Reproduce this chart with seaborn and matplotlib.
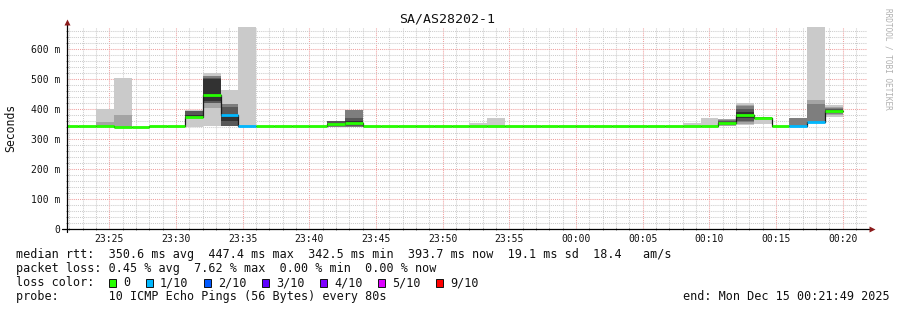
import numpy as np
import pandas as pd
import matplotlib
matplotlib.use("Agg")
import matplotlib.pyplot as plt
import seaborn as sns
from matplotlib.patches import Rectangle

# ---------------- data ----------------
title = "SA/AS28202-1"
first_step = "2025-12-14 23:21:20"   # start of first 80 s step
n_steps = 44
step_seconds = 80
end_time = "2025-12-15 00:21:49"

median_ms = [344, 344, 344, 341, 341, 344, 344, 374, 447, 379, 343,
             344, 344, 344, 344, 349, 355,
             344, 344, 344, 344, 344, 344, 344, 344, 344, 344,
             344, 344, 344, 344, 344, 344, 344, 344, 344, 344,
             354, 381, 372, 344, 343, 356, 394]
loss_tenths = [0] * 9 + [1, 1] + [0] * 30 + [1, 1, 0]

smoke_steps = [2, 3, 7, 8, 9, 10, 15, 16, 23, 24, 35, 36, 37, 38, 39, 41, 42, 43]
smoke_pings = [
    [344, 344, 344, 344, 344, 344, 344, 344, 358, 399],
    [341, 341, 341, 341, 341, 341, 341, 341, 380, 503],
    [340, 369, 370, 371, 372, 380, 393, 394, 395, 397],
    [343, 405, 420, 422, 427, 500, 505, 510, 512, 520],
    [343, 343, 344, 345, 362, 376, 406, 417, 418, 464],
    [343, 343, 343, 343, 343, 343, 343, 343, 343, 675],
    [341, 341, 342, 343, 345, 352, 360, 360, 360, 361],
    [340, 341, 342, 345, 350, 360, 370, 397, 397, 398],
    [344, 344, 344, 344, 344, 344, 344, 344, 344, 355],
    [344, 344, 344, 344, 344, 344, 344, 344, 344, 370],
    [344, 344, 344, 344, 344, 344, 344, 344, 344, 353],
    [344, 344, 344, 344, 344, 344, 344, 344, 344, 370],
    [344, 345, 347, 350, 352, 356, 360, 363, 366, 367],
    [346, 352, 358, 362, 370, 392, 400, 410, 414, 420],
    [352, 370, 371, 372, 372, 372, 373, 373, 374, 375],
    [343, 343, 343, 343, 343, 343, 343, 369, 369, 370],
    [354, 354, 355, 356, 356, 356, 356, 416, 430, 675],
    [375, 380, 385, 390, 392, 396, 400, 404, 408, 414],
]

loss_labels = ["0", "1/10", "2/10", "3/10", "4/10", "5/10", "9/10"]
loss_values = [0, 1, 2, 3, 4, 5, 9]
loss_colors = ["#26ff00", "#00b8ff", "#0059ff", "#5e00ff", "#7e00ff", "#dd00ff", "#ff0000"]
smoke_shades = ["#cacaca", "#a4a4a4", "#7e7e7e", "#585858", "#323232"]

y_ticks = [0, 100, 200, 300, 400, 500, 600]
y_tick_labels = ["0", "100 m", "200 m", "300 m", "400 m", "500 m", "600 m"]
y_max = 675

row_rtt = "median rtt:  350.6 ms avg  447.4 ms max  342.5 ms min  393.7 ms now  19.1 ms sd  18.4   am/s"
row_loss = "packet loss: 0.45 % avg  7.62 % max  0.00 % min  0.00 % now"
row_color = "loss color:"
row_probe = "probe:       10 ICMP Echo Pings (56 Bytes) every 80s"
row_end = "end: Mon Dec 15 00:21:49 2025"
watermark = "RRDTOOL / TOBI OETIKER"

# ---------------- figure ----------------
sns.set_theme(style="white")
plt.rcParams["font.family"] = ["DejaVu Sans Mono", "DejaVu Sans"]

W, H = 897, 310
fig = plt.figure(figsize=(W / 100, H / 100), dpi=100)
fig.patch.set_facecolor("white")

ax_left, ax_right, ax_bottom_px, ax_top_px = 67, 867, 228.7, 27
ax = fig.add_axes([ax_left / W, (H - ax_bottom_px) / H,
                   (ax_right - ax_left) / W, (ax_bottom_px - ax_top_px) / H])
ax.set_facecolor("white")

ref = pd.Timestamp("2025-12-14 23:20:00")
times = pd.date_range(first_step, periods=n_steps, freq=f"{step_seconds}s")
x = ((times - ref).total_seconds() / 60.0).to_numpy()
step_w = step_seconds / 60.0
x_end = (pd.Timestamp(end_time) - ref).total_seconds() / 60.0
x_start = x_end - 60.0

# smoke layers
sx = x[smoke_steps]
P = np.array(smoke_pings, dtype=float)
for i in range(5):
    lo = P[:, i]
    hi = P[:, 9 - i]
    ax.bar(sx, hi - lo, bottom=lo, width=step_w, align="edge",
           color=smoke_shades[i], linewidth=0, zorder=2)

# median: black step line + loss-coloured segments
df = pd.DataFrame({"t": np.append(x, x[-1] + step_w),
                   "ms": median_ms + [median_ms[-1]]})
sns.lineplot(data=df, x="t", y="ms", drawstyle="steps-post", color="#1a1a1a",
             lw=0.9, estimator=None, ax=ax, zorder=3)
cmap = dict(zip(loss_values, loss_colors))
ax.hlines(median_ms, x, x + step_w, colors=[cmap[l] for l in loss_tenths],
          lw=2.0, zorder=4, capstyle="butt")

# axes limits / ticks
ax.set_xlim(x_start, x_end)
ax.set_ylim(0, y_max)
tick_times = pd.date_range("2025-12-14 23:25", "2025-12-15 00:20", freq="5min")
ax.set_xticks(((tick_times - ref).total_seconds() / 60.0).to_numpy())
ax.set_xticklabels(tick_times.strftime("%H:%M"))
minor_times = pd.date_range("2025-12-14 23:22", "2025-12-15 00:21", freq="1min")
ax.set_xticks(((minor_times - ref).total_seconds() / 60.0).to_numpy(), minor=True)
ax.set_yticks(y_ticks)
ax.set_yticklabels(y_tick_labels)
ax.set_yticks(np.arange(0, y_max, 20), minor=True)
ax.set_xlabel("")
ax.set_ylabel("")

ax.grid(which="minor", color="#cccccc", linestyle=(0, (1, 1)), lw=0.75, zorder=0)
ax.grid(which="major", color="#f0a0a0", linestyle=(0, (1, 1)), lw=0.75, zorder=1)
ax.set_axisbelow(True)

ax.tick_params(axis="both", which="major", length=4, width=0.7, direction="inout",
               color="#444444", labelsize=7, labelcolor="#111111")
ax.tick_params(axis="both", which="minor", length=2, width=0.6, direction="inout",
               color="#666666")
ax.tick_params(axis="x", which="major", pad=1.5)
ax.tick_params(axis="y", which="major", pad=3.0)
ax.tick_params(axis="y", which="minor", left=True)
ax.tick_params(axis="x", which="minor", bottom=True)

for s in ax.spines.values():
    s.set_visible(False)

# axis lines with arrows
ax.plot([-5 / 800, 1.004], [0, 0], transform=ax.transAxes, color="black",
        lw=0.9, clip_on=False, zorder=5)
ax.plot([0, 0], [-3 / 201.7, 1.02], transform=ax.transAxes, color="black",
        lw=0.9, clip_on=False, zorder=5)
ax.plot([1.006], [0], transform=ax.transAxes, marker=">", ms=4, color="#8b1a1a",
        clip_on=False, zorder=6, mec="none")
ax.plot([0], [1.025], transform=ax.transAxes, marker="^", ms=4, color="#8b1a1a",
        clip_on=False, zorder=6, mec="none")

# texts
def fx(px):
    return px / W

def fy(py):
    return 1 - py / H

fig.text(fx(447.5), fy(19.5), title, ha="center", va="center", fontsize=9.5, color="#111111")
fig.text(fx(11), fy(127.5), "Seconds", rotation=90, ha="center", va="center",
         fontsize=8.3, color="#111111")
fig.text(fx(888), fy(59), watermark, rotation=270, ha="center", va="center",
         fontsize=5.6, color="#b0b0b0")

fs = 8.5
fig.text(fx(16), fy(254.8), row_rtt, ha="left", va="center", fontsize=fs, color="#111111")
fig.text(fx(16), fy(268.7), row_loss, ha="left", va="center", fontsize=fs, color="#111111")
fig.text(fx(16), fy(282.7), row_color, ha="left", va="center", fontsize=fs, color="#111111")
fig.text(fx(16), fy(296.7), row_probe, ha="left", va="center", fontsize=fs, color="#111111")
fig.text(fx(890), fy(296.7), row_end, ha="right", va="center", fontsize=fs, color="#111111")

box_left = [109, 146, 204, 262, 320, 378, 436]
for bl, lab, col in zip(box_left, loss_labels, loss_colors):
    fig.patches.append(Rectangle((fx(bl), fy(286.5)), 7 / W, 8 / H,
                                 transform=fig.transFigure, facecolor=col,
                                 edgecolor="#111111", lw=0.7))
    fig.text(fx(bl + 14), fy(282.7), lab, ha="left", va="center", fontsize=fs,
             color="#111111")

fig.savefig("out.png", dpi=100, facecolor="white")
